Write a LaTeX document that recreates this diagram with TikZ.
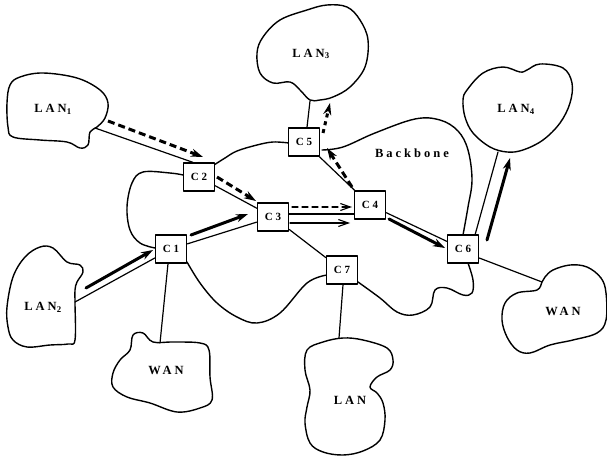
\documentclass[tikz,border=0pt]{standalone}
\usepackage{fontspec}
\setmainfont{Liberation Serif}
\newfontfamily\lblfont[LetterSpace=24]{Liberation Serif}
\usetikzlibrary{arrows.meta,calc}
\begin{document}
\begin{tikzpicture}[x=1pt,y=-1pt,line join=round,line cap=round,
  box/.style={draw,line width=1.4pt,fill=white,minimum width=31pt,minimum height=28pt,inner sep=0pt,font=\lblfont\bfseries\fontsize{11}{11}\selectfont},
  lbl/.style={inner sep=0pt,font=\lblfont\bfseries\fontsize{12.5}{12.5}\selectfont},
  cloudline/.style={draw,line width=1.4pt},
  conn/.style={line width=1.2pt},
  thickarrow/.style={line width=3pt,-{Stealth[length=12pt,width=8pt]}},
  dasharrow/.style={thickarrow,line cap=butt,dash pattern=on 7pt off 4pt},
  thinarrow/.style={line width=1.1pt,-{Straight Barb[length=10pt,width=7pt]}}]
\useasboundingbox (0,0) rectangle (607,457);

% clouds
\draw[cloudline] plot[smooth cycle,tension=0.6] coordinates {(10,85) (20,77) (43,73) (77,78) (100,90) (108,103) (105,118) (97,127) (90,132) (88,145) (80,148) (67,142) (40,140) (13,137) (8,127) (7,103)};
\draw[cloudline] plot[smooth cycle,tension=0.6] coordinates {(25,257) (40,247) (53,248) (67,262) (80,265) (83,272) (77,282) (75,290) (75,303) (75,340) (68,344) (50,345) (27,347) (13,340) (8,327) (7,307) (13,277)};
\draw[cloudline] plot[smooth cycle,tension=0.6] coordinates {(133,335) (143,333) (153,342) (173,342) (200,343) (209,350) (210,377) (212,400) (200,408) (177,412) (150,403) (127,397) (113,387) (113,373) (120,360) (130,350)};
\draw[cloudline] plot[smooth cycle,tension=0.6] coordinates {(263,37) (280,20) (307,10) (327,5) (347,7) (360,20) (368,40) (365,67) (350,87) (333,97) (320,100) (310,100) (300,90) (290,82) (273,83) (260,73) (257,53)};
\draw[cloudline] plot[smooth cycle,tension=0.6] coordinates {(467,90) (483,73) (503,67) (520,72) (527,70) (540,64) (563,68) (572,83) (570,103) (560,123) (543,140) (523,150) (507,152) (490,147) (473,133) (465,117) (463,100)};
\draw[cloudline] plot[smooth cycle,tension=0.6] coordinates {(542,282) (545,277) (553,270) (570,265) (587,267) (601,278) (606,293) (606,320) (597,333) (573,340) (550,345) (530,353) (517,350) (507,337) (502,320) (505,303) (517,293) (537,290)};
\draw[cloudline] plot[smooth cycle,tension=0.6] coordinates {(307,350) (323,342) (343,338) (363,340) (387,348) (393,360) (390,370) (377,377) (370,387) (377,393) (383,403) (385,420) (380,440) (363,451) (343,455) (323,452) (310,443) (305,423) (307,407) (310,390) (305,370)};

% backbone outline
\draw[cloudline] plot[smooth,tension=0.6] coordinates {(183,175) (170,173) (143,172) (132,183) (127,207) (130,230) (140,243) (155,248)};
\draw[cloudline] plot[smooth,tension=0.6] coordinates {(187,262) (200,283) (217,303) (237,317) (257,323) (280,313) (307,283) (327,275)};
\draw[cloudline] plot[smooth,tension=0.6] coordinates {(358,282) (380,298) (397,312) (413,315) (430,307) (435,290) (447,288) (463,295) (472,293) (473,280) (468,263)};
\draw[cloudline] plot[smooth,tension=0.6] coordinates {(322,150) (343,147) (375,133) (415,119) (440,120) (458,131) (468,150) (472,180) (468,207) (463,235)};
\draw[cloudline] plot[smooth,tension=0.6] coordinates {(289,143) (273,142) (257,145) (237,151) (225,158) (214,165)};

% labels
\node[lbl] (t1) at (53,109) {LAN\textsubscript{1}};
\node[lbl] (t2) at (43,307) {LAN\textsubscript{2}};
\node[lbl] (t3) at (311,54) {LAN\textsubscript{3}};
\node[lbl] (t4) at (516,109) {LAN\textsubscript{4}};
\node[lbl] (tw1) at (166,370) {WAN};
\node[lbl] (tw2) at (563,311) {WAN};
\node[lbl] (tl) at (350,400) {LAN};
\node[lbl] (tb) at (412,153) {Backbone};

% boxes
\node[box] (c1) at (171,249) {C1};
\node[box] (c2) at (199,177) {C2};
\node[box] (c3) at (273,217) {C3};
\node[box] (c4) at (370,205) {C4};
\node[box] (c5) at (304,142) {C5};
\node[box] (c6) at (463,249) {C6};
\node[box] (c7) at (342,270) {C7};

% cloud attach points
\coordinate (l1a) at (95,128);
\coordinate (l2a) at (75,302);
\coordinate (w1a) at (160,343);
\coordinate (l3a) at (310,101);
\coordinate (l4a) at (498,152);
\coordinate (w2a) at (542,282);
\coordinate (la) at (339,338);

% connectors
\draw[conn] (l1a) -- ([xshift=10pt]c2.north west);
\draw[conn] (c2) -- (c3);
\draw[conn] (l2a) -- ([yshift=-9pt]c1.west);
\draw[conn] (c1) -- (c3);
\draw[conn] ([xshift=-3pt]c1.south) -- (w1a);
\coordinate (c3r) at ([yshift=3pt]c3.east);
\draw[conn] (c3r) -- (c3r -| c4.west);
\draw[conn] (c3) -- (c7);
\draw[conn] (c4) -- (c5);
\draw[conn] ([xshift=3pt]c5.north) -- (l3a);
\draw[conn] (c4) -- (c6);
\draw[conn] ([xshift=-4pt]c6.north east) -- (l4a);
\draw[conn] ([yshift=-9pt]c6.east) -- (w2a);
\draw[conn] ([xshift=1pt]c7.south) -- (la);

% flow arrows
\coordinate (a1s) at (108,121); \coordinate (a1e) at (203,157);
\coordinate (a2s) at (217,177); \coordinate (a2e) at (256,201);
\coordinate (a3s) at (86,288);  \coordinate (a3e) at (153,250);
\coordinate (a4s) at (191,235); \coordinate (a4e) at (248,214);
\coordinate (a5s) at (292,207); \coordinate (a5e) at (352,207);
\coordinate (a6s) at (290,223); \coordinate (a6e) at (350,223);
\coordinate (a7s) at (352,187); \coordinate (a7e) at (327,148);
\coordinate (a8s) at (323,133); \coordinate (a8e) at (330,103);
\coordinate (a9s) at (389,219); \coordinate (a9e) at (445,248);
\coordinate (a10s) at (487,240); \coordinate (a10e) at (510,158);

\draw[dasharrow] (a1s) -- (a1e);
\draw[dasharrow] (a2s) -- (a2e);
\draw[thickarrow] (a3s) -- (a3e);
\draw[thickarrow] (a4s) -- (a4e);
\draw[thinarrow,dash pattern=on 6pt off 4pt] (a5s) -- (a5e);
\draw[thinarrow] (a6s) -- (a6e);
\draw[dasharrow] (a7s) -- (a7e);
\draw[dasharrow,dash pattern=on 4pt off 4pt] (a8s) -- (a8e);
\draw[thickarrow] (a9s) -- (a9e);
\draw[thickarrow] (a10s) -- (a10e);
\end{tikzpicture}
\end{document}
